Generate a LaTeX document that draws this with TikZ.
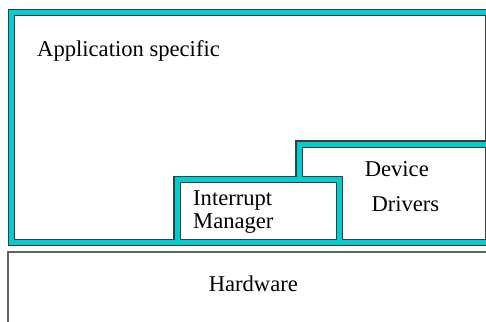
\documentclass[tikz,border=0pt]{standalone}
\usepackage{fontspec}
\setmainfont{Liberation Serif}
\definecolor{bandfill}{RGB}{0,204,204}
\definecolor{bandedge}{RGB}{60,60,60}
\tikzset{
  label/.style={inner sep=0pt, anchor=base west, font=\fontsize{22.6}{26}\selectfont},
  bandunder/.style={draw=bandedge, line width=7.2pt, line join=miter},
  bandover/.style={draw=bandfill, line width=5pt, line join=miter},
}
\begin{document}
\begin{tikzpicture}[x=1pt, y=-1pt]
\useasboundingbox (0,0) rectangle (486,321);
% corner points of the layered bands (centre lines)
\coordinate (fTL) at (11.5,12.5);
\coordinate (fBR) at (489,242.8);
\coordinate (imBL) at (177,242.8);
\coordinate (imTL) at (177,179.5);
\coordinate (imTR) at (339.7,179.5);
\coordinate (imBR) at (339.7,242.8);
\coordinate (ddB) at (299,179.5);
\coordinate (ddT) at (299,144);
\coordinate (ddR) at (492,144);
% dark edges first, then the cyan fill, so junctions merge
\foreach \st in {bandunder,bandover}{
  \draw[\st] (fTL) rectangle (fBR);
  \draw[\st] (imBL) -- (imTL) -- (imTR) -- (imBR);
  \draw[\st] (ddB) -- (ddT) -- (ddR);
}
% hardware layer
\draw[draw=bandedge!80, line width=1.3pt] (8,252) rectangle (495,330);
% labels
\node[label] (app) at (37,56.7) {Application specific};
\node[label] (im1) at (193,205.7) {Interrupt};
\node[label] (im2) at (193,228.4) {Manager};
\node[label] (dd1) at (364.6,176.7) {Device};
\node[label] (dd2) at (371.3,211.7) {Drivers};
\node[label] (hw) at (208.6,291.7) {Hardware};
\end{tikzpicture}
\end{document}
